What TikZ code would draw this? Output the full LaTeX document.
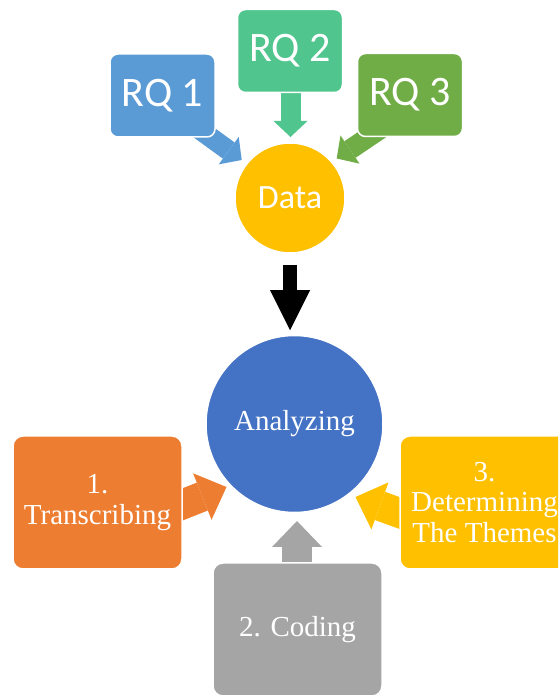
\documentclass[tikz,border=0pt]{standalone}
\usepackage{fontspec}
\setmainfont{Liberation Serif}
\newfontfamily\calibri{Carlito}
\usetikzlibrary{arrows.meta,backgrounds}
\definecolor{rqblue}{RGB}{91,155,213}
\definecolor{rqteal}{RGB}{80,198,142}
\definecolor{rqgreen}{RGB}{112,173,71}
\definecolor{amber}{RGB}{255,192,0}
\definecolor{royal}{RGB}{68,114,196}
\definecolor{tangerine}{RGB}{237,125,49}
\definecolor{silver}{RGB}{165,165,165}

\begin{document}
\begin{tikzpicture}[x=1pt,y=1pt,
  rqbox/.style={rectangle, rounded corners=8pt, draw=white, line width=1.5pt,
    minimum width=105pt, minimum height=83pt, inner sep=0pt, text=white,
    font=\calibri\fontsize{42}{50}\selectfont},
  hub/.style={circle, draw=white, line width=1.5pt, inner sep=0pt, text=white},
  stepbox/.style={rectangle, rounded corners=10pt, draw=white, line width=1.5pt,
    minimum width=169pt, minimum height=133pt, inner sep=0pt, align=center,
    text=white, font=\fontsize{29}{30.5}\selectfont},
  smallarrow/.style={line width=20pt, -{Triangle[length=16pt,width=34pt,line width=0pt]}},
  bigarrow/.style={line width=30pt, -{Triangle[length=26pt,width=50pt,line width=0pt]}},
  downarrow/.style={line width=13.3pt, -{Triangle[length=40pt,width=40pt,line width=0pt]}},
]
\clip (0,0) rectangle (558,696);

% research questions feeding the data
\node[rqbox, fill=rqblue]  (rq1) at (162.5,600.5) {RQ 1};
\node[rqbox, fill=rqteal]  (rq2) at (290,645)     {RQ 2};
\node[rqbox, fill=rqgreen] (rq3) at (410,601)     {RQ 3};
\node[hub, fill=amber, minimum size=110pt,
      font=\calibri\fontsize{34}{40}\selectfont] (data) at (290,498) {Data};

% analysis hub and its three steps
\node[hub, fill=royal, minimum size=177pt,
      font=\fontsize{29}{34}\selectfont] (ana) at (294.5,272) {Analyzing};
\node[stepbox, fill=tangerine] (trans) at (97.5,193.5)  {1.\\Transcribing};
\node[stepbox, fill=silver]    (code)  at (297.5,66.5)  {2. Coding};
\node[stepbox, fill=amber]     (theme) at (484.5,193.5) {3.\\Determining\\The Themes};

% arrow tips, with tails tucked behind the source shapes
\coordinate (rq1tip) at (241.7,536);  \path (rq1tip) ++(144:56) coordinate (rq1tail);
\coordinate (rq2tip) at (290.5,559);  \path (rq2tip) ++(90:52)  coordinate (rq2tail);
\coordinate (rq3tip) at (336.7,537.5);\path (rq3tip) ++(34:60)  coordinate (rq3tail);
\coordinate (transtip) at (226.5,209);\path (transtip) ++(201.6:60) coordinate (transtail);
\coordinate (codetip)  at (297,175);  \path (codetip) ++(-90:60)    coordinate (codetail);
\coordinate (themetip) at (355.5,199);\path (themetip) ++(-20:60)   coordinate (themetail);

\begin{scope}[on background layer]
  \draw[smallarrow, draw=rqblue]  (rq1tail) -- (rq1tip);
  \draw[smallarrow, draw=rqteal]  (rq2tail) -- (rq2tip);
  \draw[smallarrow, draw=rqgreen] (rq3tail) -- (rq3tip);
  \draw[bigarrow, draw=tangerine] (transtail) -- (transtip);
  \draw[bigarrow, draw=silver]    (codetail) -- (codetip);
  \draw[bigarrow, draw=amber]     (themetail) -- (themetip);
\end{scope}

% data flows into the analysis
\draw[downarrow, draw=black] ([yshift=-11pt]data.south) -- ([yshift=4.5pt]data.south |- ana.north);
\end{tikzpicture}
\end{document}
